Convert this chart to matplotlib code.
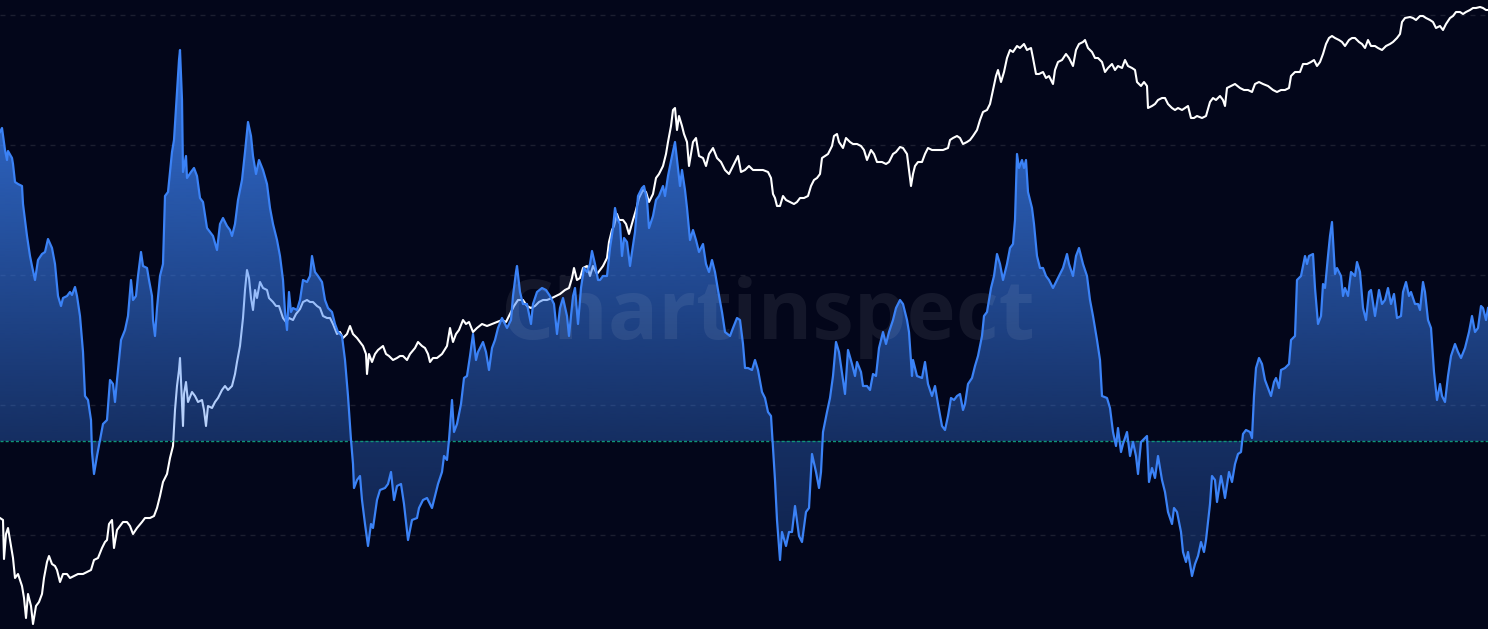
import numpy as np
import matplotlib
matplotlib.use("Agg")
import matplotlib.pyplot as plt
from matplotlib.patches import Polygon

# ---------------- data ----------------
# oscillator (blue area) : time index and value
osc_x = [0, 2, 5, 7, 8, 12, 13, 15, 18, 22, 23, 27, 30, 32, 35, 38, 42, 45, 48, 52, 55, 58, 61, 63, 67, 70, 72, 75, 77, 80,
         83, 85, 88, 91, 92, 94, 97, 100, 103, 107, 110, 113, 115, 117, 121, 125, 128, 131, 133, 136, 138, 141, 143, 147, 149,
         152, 153, 155, 157, 160, 163, 165, 168, 172, 174, 177, 179, 180, 182, 183, 186, 187, 191, 194, 197, 200, 203, 207,
         210, 213, 217, 220, 223, 227, 230, 232, 235, 238, 242, 245, 248, 251, 253, 256, 259, 263, 267, 270, 273, 277, 280,
         283, 285, 287, 289, 291, 293, 297,
         300, 303, 307, 310, 312, 315, 318, 322, 325, 328, 332, 335, 338, 342, 345, 348, 351, 353, 354, 357, 360, 362, 365,
         368, 371, 373, 377, 380, 385, 388, 391, 394, 397, 401, 404, 408, 412, 417, 419, 423, 427, 432, 435, 438, 442, 444,
         447, 449, 452, 454, 457, 461, 464, 467, 470, 473, 476, 478, 483, 486, 489, 492, 495, 498, 502, 507, 511, 513, 516,
         517, 520, 523, 527, 531, 533, 537, 542, 546, 550, 554, 557, 560, 563, 567, 569, 573, 575, 578, 581, 584, 587, 590,
         592, 595, 598,
         600, 603, 607, 610, 613, 615, 617, 620, 622, 624, 627, 630, 632, 635, 638, 642, 644, 647, 649, 653, 656, 659, 663,
         665, 668, 672, 675, 677, 680, 682, 685, 687, 690, 693, 696, 699, 703, 706, 709, 712, 715, 718, 722, 725, 730, 733,
         737, 740, 743, 745, 748, 752, 755, 758, 762, 765, 768, 771, 773, 775, 777, 780, 782, 786, 789, 792, 795, 799, 802,
         806, 809, 812, 816, 819, 821, 823, 827, 830, 833, 836, 839, 843, 845, 848, 852, 855, 857, 861, 863, 867, 870, 873,
         876, 879, 883, 886, 889, 893, 896,
         900, 903, 907, 909, 912, 913, 917, 922, 925, 928, 932, 935, 938, 942, 945, 948, 951, 954, 957, 960, 963, 965, 968,
         972, 975, 978, 982, 984, 987, 991, 994, 997, 1000, 1003, 1007, 1010, 1013, 1015, 1017, 1019, 1022, 1024, 1026, 1028,
         1032, 1034, 1037, 1040, 1043, 1046, 1049, 1053, 1057, 1060, 1063, 1067, 1069, 1073, 1076, 1079, 1083, 1087, 1090,
         1093, 1097, 1100, 1102, 1107, 1110, 1113, 1116, 1118, 1121, 1123, 1127, 1130, 1133, 1136, 1138, 1141, 1143, 1147,
         1149, 1152, 1155, 1158, 1162, 1165, 1168, 1172, 1174, 1177, 1181, 1183, 1186, 1188, 1192, 1195, 1198,
         1201, 1204, 1206, 1210, 1212, 1215, 1217, 1221, 1223, 1225, 1229, 1232, 1235, 1238, 1241, 1243, 1246, 1250, 1252,
         1254, 1256, 1259, 1262, 1265, 1268, 1271, 1274, 1276, 1279, 1281, 1285, 1289, 1291, 1295, 1297, 1301, 1303, 1305,
         1307, 1309, 1313, 1315, 1318, 1321, 1323, 1325, 1328, 1330, 1332, 1333, 1335, 1337, 1341, 1343, 1345, 1348, 1351,
         1355, 1357, 1360, 1363, 1366, 1369, 1371, 1375, 1379, 1382, 1385, 1388, 1391, 1394, 1397, 1401, 1403, 1406, 1409,
         1411, 1415, 1418, 1420, 1423, 1425, 1428, 1431, 1434, 1437, 1440, 1442, 1445, 1448, 1451, 1455, 1458, 1461, 1465,
         1469, 1472, 1475, 1478, 1481, 1483, 1486, 1488]
osc_val = [30.9, 31.3, 29.1, 28.1, 29.0, 28.3, 27.7, 25.9, 25.7, 25.5, 23.7, 20.5, 18.5, 17.5, 16.1, 18.1, 18.7, 18.9, 20.2,
           19.3, 17.7, 14.5, 13.5, 14.3, 14.5, 14.9, 14.6, 15.4, 14.5, 12.5,
           8.9, 4.5, 4.1, 2.1, -1.1, -3.3, -1.5, 0.1, 1.7, 2.1, 6.1, 5.7, 3.9, 6.1, 10.1, 11.1, 12.5, 16.1, 14.1, 14.5, 16.5,
           18.9, 17.5, 17.3, 16.1,
           14.5, 12.1, 10.5, 13.3, 16.5, 17.7, 24.5, 24.9, 28.9, 30.1, 34.9, 38.1, 39.1, 34.1, 26.9, 28.5, 26.3, 26.9, 27.3,
           26.5, 24.3, 23.9, 21.3,
           20.9, 20.5, 19.1, 21.7, 22.3, 21.5, 21.1, 20.5, 21.7, 24.1, 26.1, 28.9, 31.9, 30.5, 28.5, 26.7, 28.1, 27.1, 25.7,
           23.3, 21.7, 20.1, 18.5,
           16.1, 12.9, 11.1, 14.9, 12.9, 13.3, 13.1,
           14.1, 16.1, 15.9, 16.5, 18.5, 16.9, 16.5, 15.9, 14.1, 13.3, 12.9, 11.7, 10.9, 10.5, 8.1, 4.5, 0.1, -2.3, -4.7, -3.9,
           -3.5, -5.9, -8.3,
           -10.5, -8.3, -8.7, -5.9, -4.9, -4.7, -4.3, -3.1, -5.9, -4.5, -4.3, -6.3, -9.9, -7.9, -7.7, -6.7, -5.9, -5.7, -6.7,
           -5.5, -4.3, -3.1, -1.5,
           -1.9, 0.1, 4.1, 0.9, 1.7, 3.7, 6.3, 6.5, 8.5, 10.7, 8.1, 8.9, 9.9, 8.9, 7.1, 9.3, 10.1, 11.3, 12.3, 11.3, 12.1,
           14.5, 16.9,
           17.5, 14.9, 13.7, 13.7, 11.7, 13.7, 14.9, 15.3, 15.1, 14.5, 13.7, 10.7, 13.3, 14.3, 12.5, 10.5, 14.5, 15.3, 11.7,
           15.3, 17.3, 16.9, 17.7,
           19.0, 17.7, 16.1,
           16.1, 16.5, 16.5, 19.3, 21.3, 23.3, 22.3, 21.7, 18.5, 20.3, 19.9, 17.5, 18.9, 20.9, 24.5, 25.3, 25.5, 24.1, 21.3,
           22.5, 24.1, 24.5, 25.5,
           24.5, 26.5, 28.5, 29.9, 28.1, 25.5, 27.1, 25.1, 23.3, 20.1, 21.1, 20.1, 18.9, 19.7, 17.7, 16.9, 18.1, 16.9, 15.1,
           12.9, 10.9, 10.5, 11.3,
           12.3, 12.1, 9.7, 7.3, 7.3, 7.1, 8.1, 7.1, 4.9, 4.3, 2.9, 2.5, -0.7, -3.9, -7.9, -11.9, -9.1, -10.5, -9.1, -9.1,
           -6.5, -9.5, -10.1,
           -7.1, -6.7, -1.3, -3.1, -4.7, -3.1, 0.9, 2.9, 4.3, 6.5, 9.9, 8.9, 6.1, 4.7, 9.1, 7.7, 6.5, 7.9, 6.9, 5.5, 5.5, 5.1,
           6.7,
           6.5, 9.3, 10.9, 9.7, 10.9, 12.1, 13.3,
           14.1, 13.7, 12.1, 10.9, 6.5, 8.1, 6.5, 6.3, 7.9, 5.7, 4.5, 5.5, 3.7, 1.5, 1.1, 2.5, 4.3, 4.1, 4.5, 4.7, 3.1, 3.7,
           5.7,
           6.3, 7.5, 8.5, 10.5, 12.5, 12.9, 15.3, 16.5, 18.7, 17.7, 16.1, 17.7, 19.3, 19.7, 22.1, 28.7, 27.3, 28.1, 27.3, 28.1,
           24.9,
           23.3, 21.7, 18.5, 17.3, 17.3, 16.5, 16.1, 15.3, 16.1, 16.7, 17.3, 18.7, 17.7, 16.5, 18.5, 19.3, 17.7, 16.5, 14.1,
           12.5, 10.1, 8.1, 4.5, 4.3, 3.3, 0.9, -0.5, 1.3, -1.1, -0.3, 0.9, -1.5, -0.1, -1.5, -3.3, -0.1, 0.1, 0.5,
           -4.1, -2.7, -3.7, -1.5, -3.9, -5.1, -7.1, -8.3, -6.7, -7.1, -9.1, -11.1, -12.1, -11.1, -13.5, -12.3, -11.5,
           -10.1, -11.1, -9.9, -6.3, -3.5, -3.9, -6.1, -3.5, -4.5, -5.7, -3.1, -4.1, -2.3, -1.3, -1.1, 0.7, 1.1, 0.9, 0.3,
           4.5, 7.3, 8.3, 7.7, 6.1, 5.3, 4.5, 5.9, 6.3, 5.3, 7.1, 7.3, 7.7, 10.1, 10.5, 16.1, 16.5, 17.5, 18.5,
           17.7, 18.5, 18.7, 15.3, 11.7, 12.5, 15.7, 15.3, 18.5, 20.5, 21.9, 20.1, 16.7, 17.3, 16.5, 14.5, 15.3, 14.5, 16.9,
           16.5, 17.9, 16.9, 13.3, 12.1, 14.9, 15.1, 12.5, 15.1, 13.7, 14.1, 15.3, 13.7, 14.7, 12.3, 12.5, 14.9, 15.9, 14.5,
           14.9, 13.7, 13.7, 13.1, 15.9, 14.9, 12.1, 11.3, 6.9, 4.1, 5.7, 4.5, 3.9, 6.5, 8.5, 9.7, 8.9, 8.3, 9.3,
           10.9, 12.5, 10.9, 11.3, 13.5, 13.3, 12.1, 13.3]

# price (white line, log scale index) : time index and value
price_x = [0, 3, 4, 6, 8, 11, 13, 15, 18, 22, 24, 26, 28, 31, 33, 36, 39, 42, 44, 47, 49, 52, 55, 57, 60, 63, 67, 70, 74,
           78, 83, 87, 91, 94, 98, 102, 105, 107, 109, 112, 114, 117, 120, 123, 127, 130, 133, 137, 142, 145, 150, 154,
           157, 160, 163, 167, 170, 173, 175, 177, 179, 180, 182, 183, 184, 186, 188, 192, 195, 198, 202, 204, 206, 208,
           212, 215, 218, 222, 225, 228, 232, 235, 237, 240, 243, 245, 247, 249, 251, 253, 255, 257, 260, 263, 267, 269,
           273, 276, 279, 283, 286, 289, 293, 296, 300,
           303, 307, 310, 313, 317, 320, 323, 327, 330, 333, 337, 340, 343, 347, 350, 353, 357, 360, 363, 366, 367, 369,
           372, 375, 378, 383, 386, 389, 393, 397, 400, 403, 407, 410, 415, 418, 422, 425, 428, 430, 433, 437, 442, 447,
           450, 453, 456, 459, 463, 466, 469, 473, 477, 482, 487, 492, 497, 502, 506, 510, 514, 518, 523, 527, 531, 535,
           539, 543, 547, 552, 556, 560, 565, 569, 572, 574, 577, 580, 583, 587, 590, 593, 597,
           600, 603, 607, 609, 612, 614, 617, 619, 623, 626, 629, 633, 636, 639, 643, 646, 649, 653, 656, 659, 663, 666,
           668, 671, 673, 675, 677, 679, 682, 684, 687, 689, 693, 696, 699, 703, 706, 709, 713, 717, 721, 725, 729, 733,
           738, 741, 745, 749, 753, 758, 763, 768, 771, 773, 775, 777, 780, 783, 786, 790, 794, 797, 800, 804, 808, 811,
           814, 817, 820, 822, 825, 828, 832, 834, 837, 839, 843, 846, 850, 853, 857, 861, 864, 867, 871, 874, 877, 882,
           886, 889, 893, 896,
           900, 903, 907, 909, 911, 913, 915, 918, 922, 925, 928, 932, 935, 939, 943, 948, 950, 953, 957, 960, 963, 967,
           970, 973, 977, 980, 983, 987, 990, 993, 996, 998, 1001, 1004, 1007, 1010, 1013, 1017, 1020, 1024, 1027, 1031,
           1033, 1036, 1039, 1043, 1046, 1049, 1053, 1055, 1058, 1062, 1066, 1069, 1073, 1076, 1079, 1083, 1085, 1088,
           1092, 1095, 1098, 1102, 1105, 1108, 1112, 1115, 1118, 1122, 1125, 1128, 1132, 1135, 1137, 1141, 1144, 1147,
           1148, 1152, 1155, 1158, 1162, 1165, 1168, 1172, 1175, 1178, 1182, 1185, 1188, 1191, 1194, 1197,
           1202, 1206, 1210, 1213, 1216, 1220, 1223, 1225, 1227, 1231, 1235, 1240, 1244, 1248, 1252, 1255, 1259, 1263,
           1268, 1273, 1277, 1281, 1285, 1289, 1291, 1295, 1300, 1303, 1307, 1311, 1314, 1317, 1320, 1323, 1326, 1329,
           1332, 1335, 1339, 1342, 1345, 1349, 1352, 1355, 1359, 1362, 1365, 1368, 1371, 1375, 1378, 1382, 1386, 1390,
           1393, 1397, 1400, 1402, 1405, 1410, 1413, 1416, 1420, 1423, 1426, 1430, 1433, 1436, 1440, 1443, 1446, 1450,
           1453, 1456, 1460, 1463, 1466, 1470, 1473, 1476, 1480, 1483, 1486, 1488]
price_val = [11.1, 10.9, 7.0, 9.5, 10.1, 8.3, 7.1, 5.1, 5.5, 4.3, 3.1, 1.1, 3.5, 2.3, 0.5, 2.3, 2.7, 3.5, 5.1, 6.7, 7.3,
             6.5, 6.3, 5.9, 4.7, 5.5, 5.5, 5.1, 5.3,
             5.5, 5.5, 5.7, 5.9, 6.9, 7.1, 8.1, 8.7, 8.9, 10.5, 10.9, 8.1, 9.9, 10.3, 10.7, 10.7, 10.3, 9.5, 10.1, 10.7,
             11.1, 11.1, 11.3,
             12.1, 13.3, 14.7, 15.5, 17.1, 18.3, 21.9, 24.3, 25.9, 27.1, 22.7, 20.3, 23.5, 24.7, 22.7, 23.7, 23.3, 22.7,
             22.9, 21.9, 20.3, 22.3,
             22.1, 22.7, 23.1, 23.9, 24.3, 23.9, 24.3, 25.5, 26.7, 28.3, 31.1, 33.9, 35.9, 35.1, 33.1, 31.9, 33.9, 33.1,
             34.7, 34.1, 33.9, 33.1,
             32.7, 32.3, 32.3, 31.1, 30.7, 31.1, 30.9, 31.5, 32.0,
             32.7, 32.9, 32.7, 32.7, 32.3, 32.1, 31.3, 31.1, 31.1, 30.5, 29.5, 29.7, 29.1, 29.5, 30.3, 29.5, 29.1, 28.7,
             28.3, 27.5, 25.5, 27.5,
             26.7, 27.5, 27.9, 28.3, 27.5, 27.3, 26.9, 27.1, 27.3, 27.3, 26.9, 27.5, 28.1, 28.7, 28.3, 28.1, 27.5, 26.7,
             27.1, 27.1, 27.5, 28.3,
             30.1, 28.7, 29.5, 29.9, 30.9, 30.5, 30.7, 29.7, 30.1, 30.5, 30.3, 30.5, 30.7, 30.9, 30.7, 31.5, 32.3, 32.9,
             32.9, 32.3, 32.1, 32.3,
             32.7, 32.9, 32.9, 33.1, 33.3, 33.5, 33.9, 34.1, 35.1, 36.1, 34.9, 35.1, 36.1, 36.3, 35.3, 36.3, 35.5,
             35.9, 36.3, 37.1, 38.7, 39.9, 40.3, 41.5, 40.9, 40.9, 40.5, 39.5, 40.9, 41.9, 43.1, 43.9, 43.7, 42.7, 43.5,
             45.1, 45.5, 46.3, 47.5,
             48.7, 50.3, 51.9, 52.1, 49.9, 51.3, 50.3, 49.5, 48.7, 46.3, 48.7, 49.1, 47.3, 47.1, 46.3, 47.5, 48.1, 47.1,
             46.7, 45.9, 45.5, 46.3,
             47.3, 45.7, 45.9, 46.3, 45.9, 45.9, 45.9, 45.7, 45.1, 43.5, 43.1, 42.3, 42.3, 43.3, 42.9, 42.7, 42.5, 42.7,
             43.1, 43.1, 43.3, 44.3,
             44.9, 45.1, 45.5, 47.1, 47.3, 47.5, 48.3, 49.3, 49.5, 48.7, 48.1, 49.1, 48.7, 48.5, 48.5, 48.3, 47.9, 46.9,
             47.9, 47.5, 46.7, 46.7,
             46.5, 46.7, 47.5, 47.7,
             48.2, 48.1, 47.5, 45.9, 44.3, 45.5, 46.3, 46.7, 46.7, 47.5, 48.1, 47.9, 47.9, 47.9, 47.9, 48.1, 48.9, 49.1,
             49.3, 49.1, 48.5, 48.7,
             48.9, 49.3, 49.9, 50.9, 51.7, 51.9, 52.5, 53.9, 55.3, 55.9, 54.7, 55.7, 57.1, 57.9, 57.7, 58.3, 58.1, 58.5,
             57.9, 58.1,
             57.1, 55.5, 55.5, 55.7, 55.1, 55.3, 54.5, 55.9, 56.7, 56.9, 57.5, 57.1, 56.3, 57.9, 58.5, 58.7, 58.9, 58.1,
             57.7, 57.1, 57.1, 56.7, 55.7, 56.1, 56.5, 55.9, 56.3, 56.1, 56.9, 56.3, 56.1, 55.9, 54.7, 54.3, 54.7, 54.3,
             52.1, 52.3, 52.5, 52.9, 53.1, 53.1, 52.5, 52.1, 51.9, 52.1, 51.9, 52.1, 52.3, 51.1, 51.1, 51.3,
             51.1, 51.3, 52.7, 53.1, 52.9, 53.3, 52.9, 52.3, 54.1, 54.3, 54.5, 54.1, 53.9, 53.9, 53.7, 54.5, 54.7, 54.5,
             54.3, 53.9, 53.7, 53.9, 53.9, 54.1, 55.3, 55.7, 55.7, 56.5, 56.5, 56.7, 56.9, 56.3, 56.7, 57.5, 58.5, 59.1,
             59.3, 59.1, 58.9, 58.7, 58.3, 58.9, 59.1, 59.1, 58.7, 58.5, 58.1, 58.9, 58.3, 58.3, 58.1, 57.9, 58.3, 58.5,
             58.7, 59.1, 59.5, 60.7, 61.1, 61.2, 61.1, 60.9, 61.3, 61.3, 61.1, 60.9, 60.7, 60.1, 60.3, 59.9, 60.5, 61.1,
             61.3, 61.7, 61.7, 61.5, 61.7, 61.9, 62.1, 62.1, 62.2, 62.1, 61.9, 61.9]

grid_levels = [61.4, 48.4, 35.4, 22.4, 9.4]   # price-axis grid levels
watermark = "Chartinspect"

# ---------------- style ----------------
BG = "#03061a"
BLUE = "#3b82f6"
W, H = 1488, 629
PRICE_LIM = (0, 62.9)
OSC_LIM = (-18.8, 44.1)

fig = plt.figure(figsize=(W / 100, H / 100), dpi=100, facecolor=BG)
ax = fig.add_axes([0, 0, 1, 1])
ax.set_facecolor(BG)
ax.set_xlim(0, 1488)
ax.set_ylim(*PRICE_LIM)
ax.axis("off")

for g in grid_levels:
    ax.axhline(g, color="#1c1f30", lw=1.0, ls=(0, (3.6, 3.6)), zorder=0)

ax.plot(price_x, price_val, color="white", lw=1.5, zorder=2, solid_joinstyle="round")

ax2 = fig.add_axes([0, 0, 1, 1], facecolor="none")
ax2.set_xlim(0, 1488)
ax2.set_ylim(*OSC_LIM)
ax2.axis("off")

# clip polygon between oscillator curve and zero
verts = [(osc_x[0], 0)] + list(zip(osc_x, osc_val)) + [(osc_x[-1], 0)]
clip = Polygon(verts, closed=True, transform=ax2.transData, facecolor="none", edgecolor="none")
ax2.add_patch(clip)

rgb = np.array(matplotlib.colors.to_rgb(BLUE))
n = 256
a_pos = np.linspace(0.92, 0.33, n)
img_pos = np.zeros((n, 1, 4))
img_pos[:, 0, :3] = rgb
img_pos[:, 0, 3] = a_pos
im1 = ax2.imshow(img_pos, extent=[0, 1488, 0, OSC_LIM[1]], aspect="auto", origin="upper",
                 interpolation="bilinear", zorder=1)
im1.set_clip_path(clip)
a_neg = np.linspace(0.33, 0.18, n)
img_neg = np.zeros((n, 1, 4))
img_neg[:, 0, :3] = rgb
img_neg[:, 0, 3] = a_neg
im2 = ax2.imshow(img_neg, extent=[0, 1488, OSC_LIM[0], 0], aspect="auto", origin="upper",
                 interpolation="bilinear", zorder=1)
im2.set_clip_path(clip)

ax2.text(0.516, 0.461, watermark, transform=ax2.transAxes, ha="center", va="baseline",
         fontsize=60, fontweight="bold", family=["Open Sans", "DejaVu Sans"],
         color="white", alpha=0.07, zorder=2)

ax2.axhline(0, color="#0f9478", lw=1.0, ls=(0, (2.2, 1.5)), zorder=2.5)
ax2.plot(osc_x, osc_val, color=BLUE, lw=1.6, zorder=3, solid_joinstyle="round")

ax2.set_xlim(0, 1488)
ax2.set_ylim(*OSC_LIM)
fig.savefig("out.png", dpi=100, facecolor=BG)
